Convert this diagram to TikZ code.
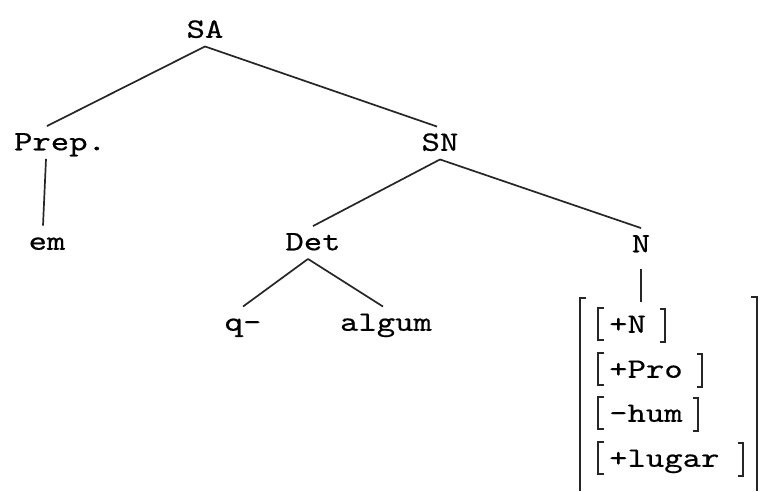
\documentclass[tikz,border=0pt]{standalone}
\usepackage{fontspec}
\usepackage{tikz}
\usetikzlibrary{positioning,calc}
\newfontfamily\tw[FakeStretch=1.25,FakeBold=0.5]{lmmono10-regular.otf}

\begin{document}
\begin{tikzpicture}[
            x=1pt, y=-1pt,
            cat/.style={inner xsep=0pt, inner ysep=8.5pt, text height=15.5pt, text depth=0pt, font=\tw\fontsize{28}{33}\selectfont},
            feat/.style={cat, anchor=west},
            edge/.style={line width=1.7pt, black!85},
            brk/.style={line width=1.4pt, black!85}
        ]
            \useasboundingbox (0,0) rectangle (761,491);
            % tree
            \node[cat] (SA) at (205,30) {SA};
            \node[cat] (Prep) at (60,142.5) {Prep.};
            \node[cat] (SN) at (440,143) {SN};
            \node[cat] (em) at (47,242) {em};
            \node[cat] (Det) at (313,242.5) {Det};
            \node[cat] (N) at (641,244.5) {N};
            \node[cat] (q) at (243,323) {q-};
            \node[cat] (algum) at (386,323) {algum};
            \coordinate (mtop) at (641,302);
            \draw[edge] (SA.south) -- ([xshift=-13pt]Prep.north);
            \draw[edge] (SA.south) -- ([xshift=-3pt]SN.north);
            \draw[edge] ([xshift=-14pt]Prep.south) -- ([xshift=-4pt]em.north);
            \draw[edge] (SN.south) -- (Det.north);
            \draw[edge] (SN.south) -- (N.north);
            \draw[edge] ([xshift=-5pt]Det.south) -- (q.north);
            \draw[edge] ([xshift=-5pt]Det.south) -- ([xshift=-3pt]algum.north);
            \draw[edge, shorten <=8pt] (N.south) -- (mtop);
            % feature matrix
            \draw[brk] (586,298) -- (580,298) -- (580,491);
            \draw[brk] (751,297) -- (757,297) -- (757,491);
            \foreach \nm/\lab/\yy/\rx in {fN/+N/325/665, fPro/+Pro/370/702, fHum/-hum/414/698, fLug/+lugar/459/743} {
                \node[feat] (\nm) at (609,\yy) {\lab};
                \draw[brk] (604,\yy-17) -- (598,\yy-17) -- (598,\yy+15) -- (604,\yy+15);
                \draw[brk] (\rx-5,\yy-16) -- (\rx,\yy-16) -- (\rx,\yy+17) -- (\rx-5,\yy+17);
            }
        \end{tikzpicture}
\end{document}
